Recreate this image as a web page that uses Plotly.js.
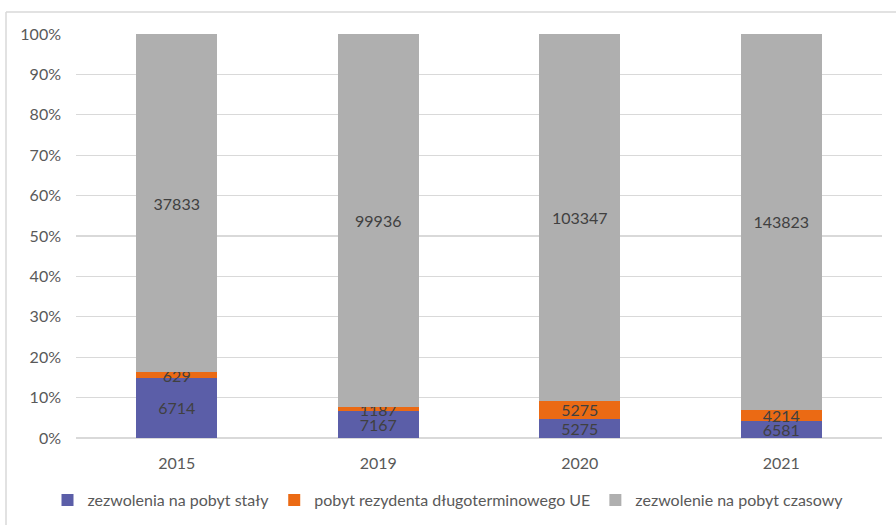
<!DOCTYPE html>
<html><head><meta charset="utf-8">
<script src="https://cdn.plot.ly/plotly-3.0.1.min.js"></script>
<style>html,body{margin:0;padding:0;background:#fff}#chart{width:896px;height:525px}</style>
</head><body><div id="chart"></div>
<script>
var years = ['2015', '2019', '2020', '2021'];
var seriesNames = ['zezwolenia na pobyt stały', 'pobyt rezydenta długoterminowego UE', 'zezwolenie na pobyt czasowy'];
var staly = [6714, 7167, 5275, 6581];
var rezydent = [629, 1187, 5275, 4214];
var czasowy = [37833, 99936, 103347, 143823];
var colors = ['#5B5EA8', '#EB6A14', '#AFAFAF'];

var FONT = 'Lato, "Open Sans", sans-serif';
var series = [staly, rezydent, czasowy];
var totals = years.map(function(_, i){ return staly[i] + rezydent[i] + czasowy[i]; });
var traces = series.map(function(vals, s){
  return {
    type: 'bar', name: seriesNames[s], x: years,
    y: vals.map(function(v, i){ return v / totals[i] * 100; }),
    text: vals.map(String), textposition: 'inside', insidetextanchor: 'middle',
    textangle: 0, constraintext: 'none',
    textfont: {family: FONT, size: 16, color: '#404040'},
    marker: {color: colors[s], line: {width: 0}},
    hoverinfo: 'skip', cliponaxis: false
  };
});

var L = 76, R = 882, T = 34, B = 438;
var pw = R - L, ph = B - T;
var layout = {
  width: 896, height: 525,
  margin: {l: L, r: 896 - R, t: T, b: 525 - B, autoexpand: false},
  paper_bgcolor: '#fff', plot_bgcolor: '#fff',
  barmode: 'stack', bargap: 0.6,
  showlegend: true,
  legend: {orientation: 'h', x: 0.5, xref: 'container', xanchor: 'center', y: 1 - 500 / 525, yref: 'container', yanchor: 'middle',
    font: {family: FONT, size: 16, color: '#595959'}, traceorder: 'normal', itemwidth: 30},
  font: {family: FONT, color: '#595959'},
  xaxis: {type: 'category', tickfont: {size: 16, color: '#595959'}, showgrid: false, ticks: '', showline: false,
    ticklabelstandoff: 14, automargin: false},
  yaxis: {range: [0, 100], dtick: 10, ticksuffix: '%', tickfont: {size: 16, color: '#595959'},
    gridcolor: '#D9D9D9', gridwidth: 1.3, zeroline: true, zerolinecolor: '#D9D9D9', zerolinewidth: 2,
    showline: false, ticks: '', fixedrange: true, ticklabelstandoff: 14, automargin: false},
  shapes: [
    {type: 'line', xref: 'paper', yref: 'paper', x0: (6 - L) / pw, x1: (900 - L) / pw, y0: (B - 12) / ph, y1: (B - 12) / ph, line: {color: '#D9D9D9', width: 1.5}},
    {type: 'line', xref: 'paper', yref: 'paper', x0: (6 - L) / pw, x1: (6 - L) / pw, y0: (B - 12) / ph, y1: (B - 530) / ph, line: {color: '#D9D9D9', width: 1.5}}
  ]
};
Plotly.newPlot('chart', traces, layout, {displayModeBar: false, staticPlot: true});
</script></body></html>
